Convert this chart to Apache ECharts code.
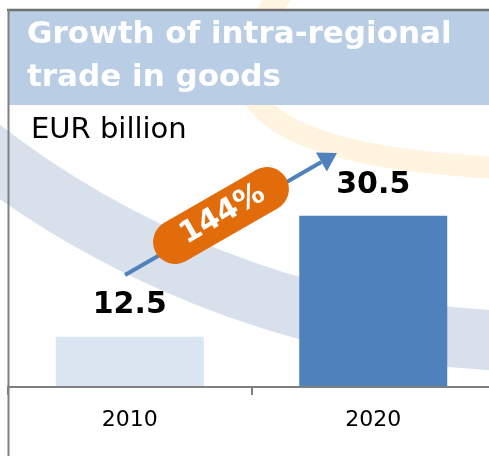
<!DOCTYPE html>
<html>
<head>
<meta charset="utf-8">
<script src="https://cdn.jsdelivr.net/npm/echarts@6/dist/echarts.min.js"></script>
<style>
  html, body { margin: 0; padding: 0; background: #fff; }
  #chart { width: 489px; height: 456px; }
</style>
</head>
<body>
<div id="chart"></div>
<script>
// data
const years = ['2010', '2020'];
const tradeValues = [12.5, 30.5];

const barColors = ['#dbe5f1', '#4f81bd'];
const growth = Math.round((tradeValues[1] - tradeValues[0]) / tradeValues[0] * 100) + '%';
const FONT = 'DejaVu Sans';

// arrow (annotation)
const ax0 = 125, ay0 = 275, ax1 = 337, ay1 = 153;
const ang = Math.atan2(ay0 - ay1, ax1 - ax0);
const ux = Math.cos(ang), uy = -Math.sin(ang);
const nx = Math.sin(ang), ny = Math.cos(ang);
const headLen = 18, headHalf = 11;
const bx = ax1 - ux * headLen, by = ay1 - uy * headLen;

const chart = echarts.init(document.getElementById('chart'));

chart.setOption({
  animation: false,
  title: [
    {
      text: 'Growth of intra-regional\ntrade in goods',
      left: 27,
      top: 13,
      padding: 0,
      textStyle: { color: '#fff', fontFamily: FONT, fontWeight: 'bold', fontSize: 31, lineHeight: 43 }
    },
    {
      text: 'EUR billion',
      left: 31,
      top: 116,
      padding: 0,
      textStyle: { color: '#000', fontFamily: FONT, fontWeight: 'normal', fontSize: 29, lineHeight: 29 }
    }
  ],
  grid: { left: 8, width: 487, top: 152, bottom: 69, containLabel: false, outerBoundsMode: 'none' },
  xAxis: {
    type: 'category',
    data: years,
    z: 3,
    axisLine: { lineStyle: { color: '#7f7f7f', width: 2 } },
    axisTick: { show: true, length: 8, lineStyle: { color: '#7f7f7f', width: 2 } },
    axisLabel: { color: '#000', fontFamily: FONT, fontSize: 22, margin: 22 }
  },
  yAxis: { type: 'value', min: 5, max: 40, show: false },
  series: [{
    type: 'bar',
    data: tradeValues,
    barWidth: 148,
    z: 2,
    itemStyle: { color: p => barColors[p.dataIndex] },
    label: {
      show: true,
      position: 'top',
      distance: 16,
      color: '#000',
      fontFamily: FONT,
      fontWeight: 'bold',
      fontSize: 30
    }
  }],
  graphic: [
    // background swooshes
    {
      type: 'arc', z: 0, silent: true,
      shape: { cx: 548, cy: -583, r: 925, startAngle: 1.2, endAngle: 2.7, clockwise: true },
      style: { stroke: '#d8e0ec', lineWidth: 60, fill: 'none' }
    },
    {
      type: 'bezierCurve', z: 0, silent: true,
      shape: { x1: 290, y1: -15, x2: 500, y2: 168, cpx1: 140, cpy1: 150 },
      style: { stroke: '#fef4e0', lineWidth: 22, fill: 'none' }
    },
    // title band and frame
    { type: 'rect', z: 1, silent: true, shape: { x: 8, y: 11, width: 481, height: 94 }, style: { fill: '#b9cde5' } },
    { type: 'line', z: 5, silent: true, shape: { x1: 7, y1: 10, x2: 489, y2: 10 }, style: { stroke: '#707070', lineWidth: 2.5 } },
    { type: 'line', z: 5, silent: true, shape: { x1: 8.5, y1: 9, x2: 8.5, y2: 456 }, style: { stroke: '#808080', lineWidth: 2 } },
    // growth arrow
    { type: 'line', z: 10, shape: { x1: ax0, y1: ay0, x2: bx, y2: by }, style: { stroke: '#4f81bd', lineWidth: 4 } },
    {
      type: 'polygon', z: 10,
      shape: { points: [[ax1, ay1], [bx + nx * headHalf, by + ny * headHalf], [bx - nx * headHalf, by - ny * headHalf]] },
      style: { fill: '#4f81bd' }
    },
    {
      type: 'group', z: 11, x: 221, y: 215.5, rotation: ang,
      children: [
        { type: 'rect', z: 11, shape: { x: -75, y: -22, width: 150, height: 44, r: 22 }, style: { fill: '#e36c0a' } },
        {
          type: 'text', z: 12,
          style: {
            text: growth, x: 2, y: 0,
            textAlign: 'center', textVerticalAlign: 'middle',
            align: 'center', verticalAlign: 'middle',
            fill: '#fff', font: 'bold 30px "DejaVu Sans"'
          }
        }
      ]
    }
  ]
});
</script>
</body>
</html>
